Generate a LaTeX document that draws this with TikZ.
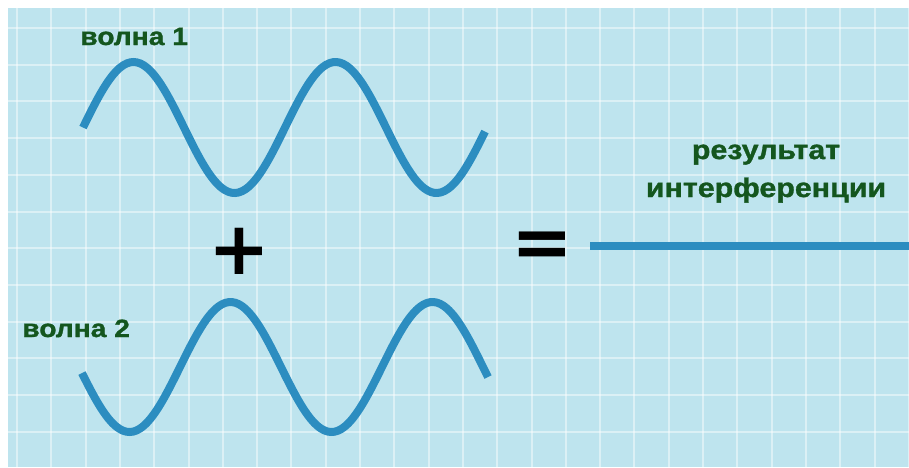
\documentclass[tikz,border=0pt]{standalone}
\usepackage{fontspec}
\usepackage{xcolor}
\usepackage{tikz}
\usetikzlibrary{positioning}
\newfontfamily\wavefont[FakeStretch=1.13, FakeBold=1.2]{Liberation Sans}
\newfontfamily\signfont{DejaVu Sans}
\definecolor{paper}{RGB}{190,228,238}
\definecolor{waveblue}{RGB}{44,141,192}
\definecolor{labelgreen}{RGB}{20,86,30}
\tikzset{
  wave/.style={draw=waveblue, line width=0.16cm, smooth},
  gridline/.style={draw=white, opacity=0.45, line width=0.04cm},
  wlabel/.style={font=\wavefont\bfseries\fontsize{14.2}{21.6}\selectfont, text=labelgreen, inner sep=0pt},
  rlabel/.style={wlabel, font=\wavefont\bfseries\fontsize{15.3}{21.6}\selectfont},
  sign/.style={font=\signfont\bfseries\fontsize{42}{42}\selectfont, inner sep=0pt}
}

\begin{document}
\begin{tikzpicture}[x=0.02cm, y=-0.02cm]
\useasboundingbox (0,0) rectangle (909,467);
\fill[white] (0,0) rectangle (909,467);
\fill[paper] (8,8) rectangle (909,467);
% grid
\foreach \k in {0,...,26} \draw[gridline] ({17+34.3*\k},8) -- ({17+34.3*\k},467);
\foreach \k in {0,...,11} \draw[gridline] (8,{28+36.7*\k}) -- (909,{28+36.7*\k});
% waves
\draw[wave] plot[domain=83:485, samples=120] (\x,{127.5-65.5*sin((\x-83)/202*360)});
\draw[wave] plot[domain=82:488, samples=120] (\x,{367+65*sin((\x-79)/202*360)});
\node[wlabel, anchor=base west] (w1) at (80,45) {волна 1};
\node[wlabel, anchor=base west] (w2) at (22,337) {волна 2};
\node[sign] (plus) at (239,251) {+};
\node[sign] (eq) at (542,250) {=};
% result
\coordinate (r0) at (590,246);
\coordinate (r1) at (909,246);
\draw[wave] (r0) -- (r1);
\node[rlabel, anchor=base, align=center] (res) at (766,197) {результат\\интерференции};
\end{tikzpicture}
\end{document}
